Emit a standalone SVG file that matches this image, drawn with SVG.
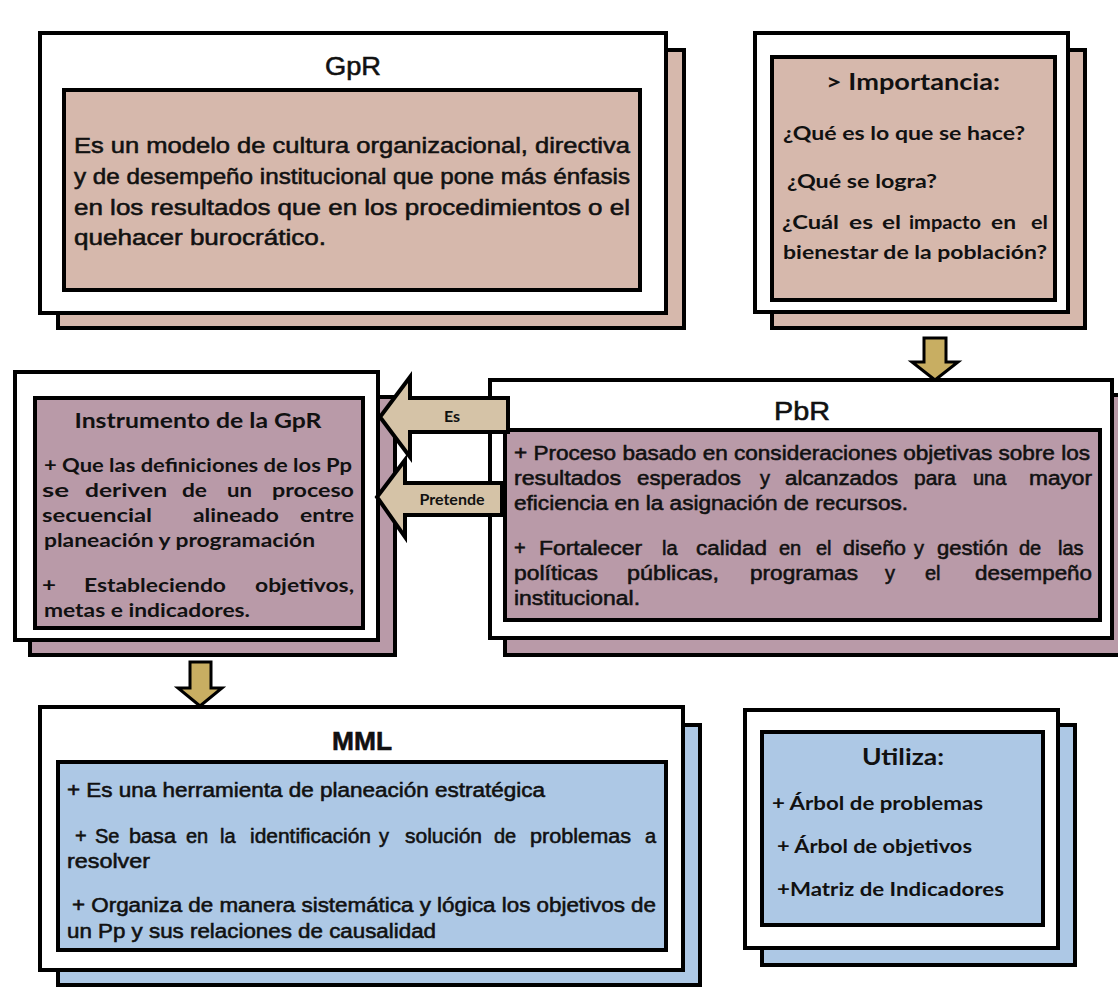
<svg xmlns="http://www.w3.org/2000/svg" width="1118" height="998" viewBox="0 0 1118 998">
<style>
.box{stroke:#000;stroke-width:4}
.w{fill:#fff}
.pk{fill:#d6b8ac}
.pu{fill:#b99aa8}
.bl{fill:#adc8e5}
.n{font-family:"Liberation Sans",Arial,sans-serif;fill:#111;stroke:#111;stroke-width:0.55}
.h{font-family:Lato,"Liberation Sans",sans-serif;font-weight:bold;fill:#111}
.t{font-size:25px;text-anchor:middle}
.ar{fill:#d5c3a7;stroke:#000;stroke-width:4;stroke-linejoin:miter}
.dn{fill:#c8ae62;stroke:#000;stroke-width:3}
</style>
<rect width="1118" height="998" fill="#fff"/>

<g id="gpr">
<rect class="box pk" x="58" y="50" width="626" height="278"/>
<rect class="box w" x="40" y="33" width="626" height="280"/>
<rect class="box pk" x="64" y="90" width="576" height="200"/>
<text class="n t" x="353" y="75" textLength="56" lengthAdjust="spacingAndGlyphs">GpR</text>
<g class="n" font-size="22">
<text x="74" y="153" textLength="556" lengthAdjust="spacingAndGlyphs">Es un modelo de cultura organizacional, directiva</text>
<text x="74" y="184" textLength="556" lengthAdjust="spacingAndGlyphs">y de desempeño institucional que pone más énfasis</text>
<text x="74" y="215" textLength="556" lengthAdjust="spacingAndGlyphs">en los resultados que en los procedimientos o el</text>
<text x="74" y="245" textLength="252" lengthAdjust="spacingAndGlyphs">quehacer burocrático.</text>
</g>
</g>

<g id="importancia">
<rect class="box pk" x="772" y="50" width="313" height="278"/>
<rect class="box w" x="755" y="33" width="313" height="279"/>
<rect class="box pk" x="772" y="57" width="283" height="243"/>
<text class="h" x="913" y="90" font-size="22" text-anchor="middle" textLength="174" lengthAdjust="spacingAndGlyphs">&gt; Importancia:</text>
<g class="h" font-size="18">
<text x="783" y="140" textLength="242" lengthAdjust="spacingAndGlyphs">¿Qué es lo que se hace?</text>
<text x="787" y="188" textLength="150" lengthAdjust="spacingAndGlyphs">¿Qué se logra?</text>
<text y="229"><tspan x="782" textLength="57" lengthAdjust="spacingAndGlyphs">¿Cuál</tspan> <tspan x="849" textLength="24" lengthAdjust="spacingAndGlyphs">es</tspan> <tspan x="882" textLength="19" lengthAdjust="spacingAndGlyphs">el</tspan> <tspan x="909" textLength="72" lengthAdjust="spacingAndGlyphs">impacto</tspan> <tspan x="991" textLength="25" lengthAdjust="spacingAndGlyphs">en</tspan> <tspan x="1031" textLength="17" lengthAdjust="spacingAndGlyphs">el</tspan></text>
<text x="783" y="259" textLength="264" lengthAdjust="spacingAndGlyphs">bienestar de la población?</text>
</g>
</g>

<g id="instrumento">
<rect class="box pu" x="30" y="397" width="365" height="258"/>
<rect class="box w" x="15" y="372" width="363" height="268"/>
<rect class="box pu" x="35" y="398" width="328" height="230"/>
<text class="h" x="198" y="428" font-size="20" text-anchor="middle" textLength="247" lengthAdjust="spacingAndGlyphs">Instrumento de la GpR</text>
<g class="h" font-size="19">
<text x="44" y="472" textLength="308" lengthAdjust="spacingAndGlyphs">+ Que las definiciones de los Pp</text>
<text y="497"><tspan x="42" textLength="27" lengthAdjust="spacingAndGlyphs">se</tspan> <tspan x="85" textLength="82" lengthAdjust="spacingAndGlyphs">deriven</tspan> <tspan x="182" textLength="25" lengthAdjust="spacingAndGlyphs">de</tspan> <tspan x="227" textLength="25" lengthAdjust="spacingAndGlyphs">un</tspan> <tspan x="272" textLength="82" lengthAdjust="spacingAndGlyphs">proceso</tspan></text>
<text y="522"><tspan x="42" textLength="110" lengthAdjust="spacingAndGlyphs">secuencial</tspan> <tspan x="193" textLength="86" lengthAdjust="spacingAndGlyphs">alineado</tspan> <tspan x="300" textLength="54" lengthAdjust="spacingAndGlyphs">entre</tspan></text>
<text x="44" y="547" textLength="271" lengthAdjust="spacingAndGlyphs">planeación y programación</text>
<text y="592"><tspan x="42" textLength="14" lengthAdjust="spacingAndGlyphs">+</tspan> <tspan x="84" textLength="142" lengthAdjust="spacingAndGlyphs">Estableciendo</tspan> <tspan x="255" textLength="99" lengthAdjust="spacingAndGlyphs">objetivos,</tspan></text>
<text x="44" y="617" textLength="206" lengthAdjust="spacingAndGlyphs">metas e indicadores.</text>
</g>
</g>

<g id="pbr">
<rect class="box pu" x="505" y="395" width="620" height="260"/>
<rect class="box w" x="490" y="380" width="622" height="258"/>
<rect class="box pu" x="505" y="430" width="595" height="190"/>
<text class="n t" x="802" y="420" textLength="56" lengthAdjust="spacingAndGlyphs">PbR</text>
<g class="n" font-size="20">
<text x="514" y="460" textLength="576" lengthAdjust="spacingAndGlyphs">+ Proceso basado en consideraciones objetivas sobre los</text>
<text y="485"><tspan x="514" textLength="107" lengthAdjust="spacingAndGlyphs">resultados</tspan> <tspan x="637" textLength="104" lengthAdjust="spacingAndGlyphs">esperados</tspan> <tspan x="760">y</tspan> <tspan x="785" textLength="113" lengthAdjust="spacingAndGlyphs">alcanzados</tspan> <tspan x="914" textLength="42" lengthAdjust="spacingAndGlyphs">para</tspan> <tspan x="973">una</tspan> <tspan x="1029" textLength="63" lengthAdjust="spacingAndGlyphs">mayor</tspan></text>
<text x="514" y="510" textLength="394" lengthAdjust="spacingAndGlyphs">eficiencia en la asignación de recursos.</text>
<text y="555"><tspan x="514">+</tspan> <tspan x="539" textLength="103" lengthAdjust="spacingAndGlyphs">Fortalecer</tspan> <tspan x="662">la</tspan> <tspan x="696" textLength="71" lengthAdjust="spacingAndGlyphs">calidad</tspan> <tspan x="779">en</tspan> <tspan x="816">el</tspan> <tspan x="843" textLength="63" lengthAdjust="spacingAndGlyphs">diseño</tspan> <tspan x="914">y</tspan> <tspan x="937" textLength="71" lengthAdjust="spacingAndGlyphs">gestión</tspan> <tspan x="1019">de</tspan> <tspan x="1058">las</tspan></text>
<text y="580"><tspan x="514" textLength="84" lengthAdjust="spacingAndGlyphs">políticas</tspan> <tspan x="627" textLength="92" lengthAdjust="spacingAndGlyphs">públicas,</tspan> <tspan x="750" textLength="108" lengthAdjust="spacingAndGlyphs">programas</tspan> <tspan x="885">y</tspan> <tspan x="925">el</tspan> <tspan x="975" textLength="117" lengthAdjust="spacingAndGlyphs">desempeño</tspan></text>
<text x="514" y="605" textLength="126" lengthAdjust="spacingAndGlyphs">institucional.</text>
</g>
</g>

<g id="mml">
<rect class="box bl" x="58" y="725" width="642" height="260"/>
<rect class="box w" x="40" y="707" width="643" height="263"/>
<rect class="box bl" x="58" y="762" width="608" height="188"/>
<text class="n t" x="362" y="750" font-weight="bold" textLength="60" lengthAdjust="spacingAndGlyphs">MML</text>
<g class="n" font-size="20">
<text x="67" y="797" textLength="478" lengthAdjust="spacingAndGlyphs">+ Es una herramienta de planeación estratégica</text>
<text y="843"><tspan x="75">+</tspan> <tspan x="95">Se</tspan> <tspan x="129" textLength="47" lengthAdjust="spacingAndGlyphs">basa</tspan> <tspan x="186">en</tspan> <tspan x="220">la</tspan> <tspan x="250" textLength="121" lengthAdjust="spacingAndGlyphs">identificación</tspan> <tspan x="379">y</tspan> <tspan x="405" textLength="77" lengthAdjust="spacingAndGlyphs">solución</tspan> <tspan x="494">de</tspan> <tspan x="530" textLength="101" lengthAdjust="spacingAndGlyphs">problemas</tspan> <tspan x="645">a</tspan></text>
<text x="67" y="868" textLength="83" lengthAdjust="spacingAndGlyphs">resolver</text>
<text x="72" y="912" textLength="584" lengthAdjust="spacingAndGlyphs">+ Organiza de manera sistemática y lógica los objetivos de</text>
<text x="67" y="938" textLength="369" lengthAdjust="spacingAndGlyphs">un Pp y sus relaciones de causalidad</text>
</g>
</g>

<g id="utiliza">
<rect class="box bl" x="762" y="725" width="313" height="240"/>
<rect class="box w" x="745" y="710" width="313" height="238"/>
<rect class="box bl" x="762" y="732" width="281" height="193"/>
<text class="h" x="903" y="765" font-size="22" text-anchor="middle" textLength="82" lengthAdjust="spacingAndGlyphs">Utiliza:</text>
<g class="h" font-size="18">
<text x="772" y="810" textLength="211" lengthAdjust="spacingAndGlyphs">+ Árbol de problemas</text>
<text x="777" y="853" textLength="195" lengthAdjust="spacingAndGlyphs">+ Árbol de objetivos</text>
<text x="777" y="896" textLength="227" lengthAdjust="spacingAndGlyphs">+Matriz de Indicadores</text>
</g>
</g>

<g id="connectors">
<path class="dn" d="M924,338 H946 V362 H958 L935,380 L912,362 H924 Z"/>
<path class="dn" d="M190,662 H211 V688 H222 L200,706 L178,688 H190 Z"/>
<path class="ar" d="M508,398 H410 V377 L380,417 L410,457 V432 H508 Z"/>
<path class="ar" d="M502,483 H405 V460 L377,497 L405,537 V515 H502 Z"/>
<text class="h" x="452" y="422" font-size="16" text-anchor="middle">Es</text>
<text class="h" x="452" y="505" font-size="16" text-anchor="middle">Pretende</text>
</g>
</svg>
